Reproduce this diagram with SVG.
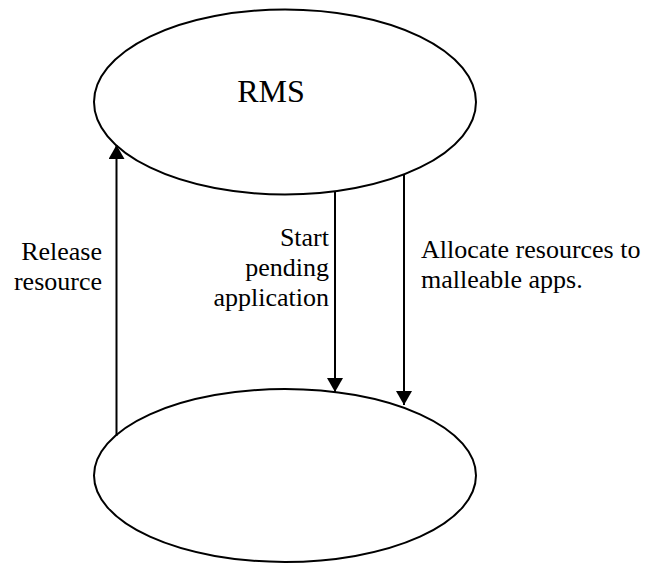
<svg xmlns="http://www.w3.org/2000/svg" width="647" height="563" viewBox="0 0 647 563">
  <style>
    .shape { fill: #ffffff; stroke: #000000; stroke-width: 2; }
    .edge { stroke: #000000; stroke-width: 2; fill: none; }
    .caption { font-family: "Liberation Serif", "Times New Roman", serif; font-size: 26px; fill: #000000; }
    .heading { font-family: "Liberation Serif", "Times New Roman", serif; font-size: 32px; fill: #000000; }
  </style>
  <defs>
    <marker id="arrow" markerUnits="userSpaceOnUse" markerWidth="14" markerHeight="16" refX="14" refY="8" orient="auto">
      <path d="M0,0 L14,8 L0,16 z" fill="#000000"/>
    </marker>
  </defs>
  <rect width="647" height="563" fill="#ffffff"/>

  <g id="rms">
    <ellipse class="shape" cx="285" cy="102" rx="191" ry="92.5"/>
    <text class="heading" x="271" y="102" text-anchor="middle" font-family="Liberation Serif, Times New Roman, serif" font-size="32">RMS</text>
  </g>

  <g id="apps">
    <ellipse class="shape" cx="285" cy="475.5" rx="191" ry="86.5"/>
  </g>

  <g id="connectors">
    <line class="edge" x1="116.5" y1="436" x2="116.5" y2="145" marker-end="url(#arrow)"/>
    <line class="edge" x1="335" y1="191" x2="335" y2="392" marker-end="url(#arrow)"/>
    <line class="edge" x1="404" y1="174" x2="404" y2="405" marker-end="url(#arrow)"/>
  </g>

  <g id="captions" font-family="Liberation Serif, Times New Roman, serif" font-size="26">
    <text class="caption" x="102" y="260" text-anchor="end">Release</text>
    <text class="caption" x="102" y="290" text-anchor="end">resource</text>
    <text class="caption" x="329" y="246" text-anchor="end">Start</text>
    <text class="caption" x="329" y="276" text-anchor="end">pending</text>
    <text class="caption" x="329" y="306" text-anchor="end">application</text>
    <text class="caption" x="421" y="258">Allocate resources to</text>
    <text class="caption" x="421" y="288">malleable apps.</text>
  </g>
</svg>
